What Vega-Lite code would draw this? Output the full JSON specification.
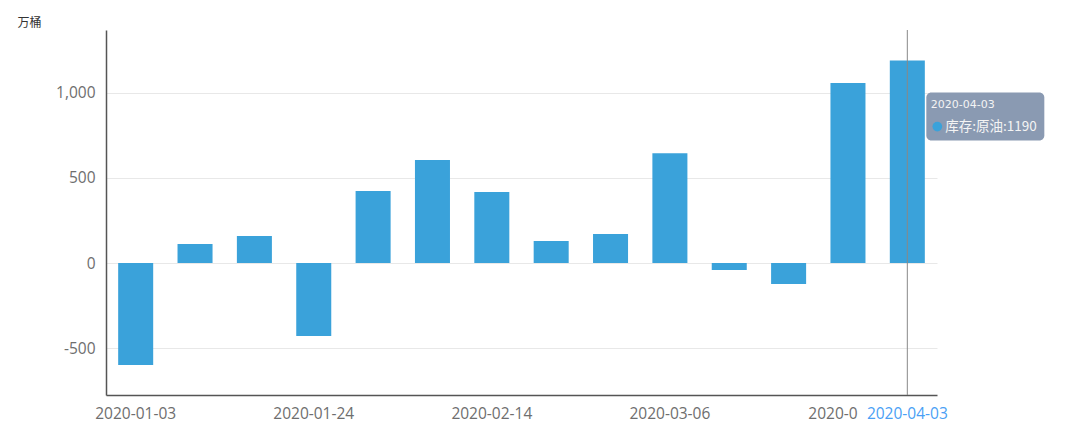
{
  "$schema": "https://vega.github.io/schema/vega-lite/v6.json",
  "width": 831,
  "height": 365,
  "autosize": {"type": "none"},
  "padding": {"left": 106, "top": 30, "right": 143, "bottom": 41},
  "background": "#ffffff",
  "config": {"view": {"stroke": null}},
  "datasets": {
    "bars": [
      {"date": "2020-01-03", "value": -600},
      {"date": "2020-01-10", "value": 112},
      {"date": "2020-01-17", "value": 159},
      {"date": "2020-01-24", "value": -429},
      {"date": "2020-01-31", "value": 424},
      {"date": "2020-02-07", "value": 605},
      {"date": "2020-02-14", "value": 418},
      {"date": "2020-02-21", "value": 129},
      {"date": "2020-02-28", "value": 171},
      {"date": "2020-03-06", "value": 646},
      {"date": "2020-03-13", "value": -41},
      {"date": "2020-03-20", "value": -124},
      {"date": "2020-03-27", "value": 1058},
      {"date": "2020-04-03", "value": 1190}
    ],
    "pointer": [
      {"date": "2020-04-03", "value": 1190, "title": "2020-04-03", "label": "库存:原油:1190"}
    ]
  },
  "encoding": {
    "x": {
      "field": "date", "type": "nominal", "sort": null,
      "scale": {"paddingInner": 0.41, "paddingOuter": 0.205},
      "axis": {
        "title": null, "labelAngle": 0, "ticks": false,
        "domainColor": "#555555", "domainWidth": 1.5,
        "labelFont": "Open Sans", "labelFontSize": 15.5, "labelPadding": 11,
        "labelOverlap": false,
        "labelExpr": "indexof(['2020-01-03','2020-01-24','2020-02-14','2020-03-06','2020-04-03'], datum.value) >= 0 ? datum.value : (datum.value == '2020-03-27' ? '2020-0' : '')",
        "labelOffset": {"expr": "datum.value == '2020-03-27' ? -15 : 0"},
        "labelColor": {"expr": "datum.value == '2020-04-03' ? '#4a9ff5' : '#6e6e6e'"}
      }
    }
  },
  "layer": [
    {
      "data": {"name": "bars"},
      "mark": {"type": "bar", "color": "#3aa2da"},
      "encoding": {
        "y": {
          "field": "value", "type": "quantitative",
          "scale": {"domain": [-776, 1370], "nice": false, "zero": false},
          "axis": {
            "values": [-500, 0, 500, 1000], "ticks": false,
            "labelExpr": "datum.value < 0 ? '-' + format(-datum.value, ',.0f') : format(datum.value, ',.0f')",
            "domainColor": "#555555", "domainWidth": 1.5,
            "gridColor": "#e8e8e8", "labelColor": "#6e6e6e",
            "labelFont": "Open Sans", "labelFontSize": 15.5, "labelPadding": 11,
            "title": "万桶", "titleAngle": 0, "titleAlign": "left", "titleBaseline": "middle",
            "titleX": -89, "titleY": -8, "titleFont": "Noto Sans CJK SC",
            "titleFontSize": 12, "titleFontWeight": "normal", "titleColor": "#333333"
          }
        }
      }
    },
    {
      "data": {"name": "pointer"},
      "mark": {"type": "rule", "color": "#888888", "strokeWidth": 1},
      "encoding": {}
    },
    {
      "data": {"name": "pointer"},
      "mark": {"type": "rect", "width": 118, "xOffset": 78, "yOffset": 32, "y2Offset": 80, "cornerRadius": 5, "fill": "#8a9ab2"},
      "encoding": {"y": {"field": "value", "type": "quantitative"}, "y2": {"field": "value"}}
    },
    {
      "data": {"name": "pointer"},
      "mark": {"type": "text", "align": "left", "baseline": "middle", "dx": 23.5, "dy": 44, "font": "DejaVu Sans", "fontSize": 11, "color": "#f4f4f4"},
      "encoding": {"y": {"field": "value", "type": "quantitative"}, "text": {"field": "title"}}
    },
    {
      "data": {"name": "pointer"},
      "mark": {"type": "point", "filled": true, "size": 95, "opacity": 1, "xOffset": 30, "yOffset": 66, "color": "#3aa2da"},
      "encoding": {"y": {"field": "value", "type": "quantitative"}}
    },
    {
      "data": {"name": "pointer"},
      "mark": {"type": "text", "align": "left", "baseline": "middle", "dx": 38, "dy": 66, "font": "Noto Sans CJK SC", "fontSize": 13.5, "color": "#f4f4f4"},
      "encoding": {"y": {"field": "value", "type": "quantitative"}, "text": {"field": "label"}}
    }
  ]
}
